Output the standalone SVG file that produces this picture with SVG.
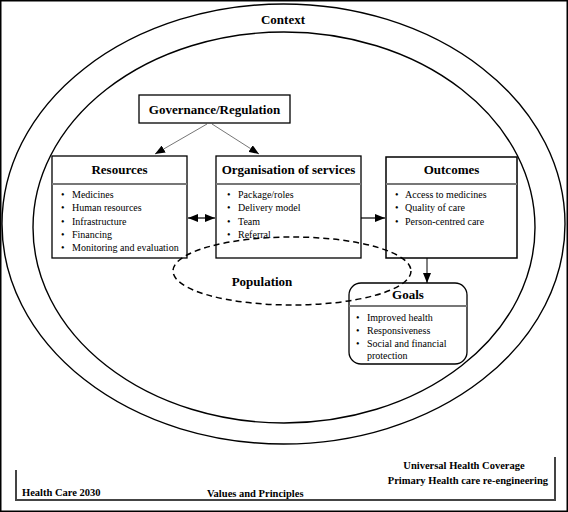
<svg xmlns="http://www.w3.org/2000/svg" width="568" height="512" viewBox="0 0 568 512">
<style>
  .frame{fill:none;stroke:#000;stroke-width:1.5}
  .ring{fill:none;stroke:#000;stroke-width:1.4}
  .box{fill:#fff;stroke:#000;stroke-width:1.3}
  .div{stroke:#777;stroke-width:2}
  .title{font-family:"Liberation Serif","Times New Roman",serif;font-weight:bold;font-size:13px;fill:#000}
  .lbl{font-family:"Liberation Serif","Times New Roman",serif;font-weight:bold;font-size:10.5px;fill:#000}
  .item{font-family:"Liberation Serif","Times New Roman",serif;font-size:10px;fill:#000}
  .thin{stroke:#666;stroke-width:0.9;fill:none}
  .thick{stroke:#666;stroke-width:2;fill:none}
  .blk{stroke:#000;stroke-width:1;fill:none}
  .dash{fill:none;stroke:#000;stroke-width:1.5;stroke-dasharray:6 4}
  .brk{fill:none;stroke:#444;stroke-width:2}
</style>
<defs>
  <marker id="ah" markerUnits="userSpaceOnUse" markerWidth="10" markerHeight="8" refX="10" refY="4" orient="auto-start-reverse">
    <path d="M0,0 L10,4 L0,8 z" fill="#000"/>
  </marker>
</defs>
<rect class="frame" x="0.75" y="0.75" width="566.5" height="510.5" fill="#fff"/>
<g id="context">
  <ellipse class="ring" cx="283.5" cy="224" rx="281.5" ry="220"/>
  <text class="title" x="283" y="24" text-anchor="middle">Context</text>
</g>
<g id="inner-ring">
  <ellipse class="ring" cx="284" cy="227.5" rx="251" ry="195.5"/>
</g>
<g id="connectors">
  <line class="thin" x1="207" y1="124" x2="155" y2="154" marker-end="url(#ah)"/>
  <line class="thin" x1="212" y1="124" x2="259" y2="154" marker-end="url(#ah)"/>
  <line class="thick" x1="188" y1="218" x2="215" y2="218" marker-start="url(#ah)" marker-end="url(#ah)"/>
  <line class="thick" x1="361" y1="218" x2="385" y2="218" marker-end="url(#ah)"/>
  <line class="blk" x1="427" y1="258" x2="427" y2="283" marker-end="url(#ah)"/>
</g>
<g id="governance">
  <rect class="box" x="139" y="95" width="151" height="28"/>
  <text class="title" x="214.5" y="114" text-anchor="middle">Governance/Regulation</text>
</g>
<g id="resources">
  <rect class="box" x="52" y="156" width="135" height="102"/>
  <line class="div" x1="52" y1="184" x2="187" y2="184"/>
  <text class="title" x="119.5" y="174" text-anchor="middle">Resources</text>
  <g class="item">
    <text x="61" y="198">•</text><text x="72" y="198">Medicines</text>
    <text x="61" y="211">•</text><text x="72" y="211">Human resources</text>
    <text x="61" y="225">•</text><text x="72" y="225">Infrastructure</text>
    <text x="61" y="238">•</text><text x="72" y="238">Financing</text>
    <text x="61" y="251">•</text><text x="72" y="251">Monitoring and evaluation</text>
  </g>
</g>
<g id="organisation">
  <rect class="box" x="216" y="156" width="145" height="102"/>
  <line class="div" x1="216" y1="184" x2="361" y2="184"/>
  <text class="title" x="288.5" y="174" text-anchor="middle">Organisation of services</text>
  <g class="item">
    <text x="227" y="198">•</text><text x="238" y="198">Package/roles</text>
    <text x="227" y="211">•</text><text x="238" y="211">Delivery model</text>
    <text x="227" y="225">•</text><text x="238" y="225">Team</text>
    <text x="227" y="238">•</text><text x="238" y="238">Referral</text>
  </g>
</g>
<g id="outcomes">
  <rect class="box" x="386" y="157" width="131" height="101" style="stroke-width:1.5"/>
  <line class="div" x1="386" y1="184" x2="517" y2="184"/>
  <text class="title" x="451.5" y="174" text-anchor="middle">Outcomes</text>
  <g class="item">
    <text x="395" y="198">•</text><text x="405" y="198">Access to medicines</text>
    <text x="395" y="211">•</text><text x="405" y="211">Quality of care</text>
    <text x="395" y="225">•</text><text x="405" y="225">Person-centred care</text>
  </g>
</g>
<g id="goals">
  <rect class="box" x="349" y="283" width="118" height="81" rx="12" ry="12"/>
  <line class="div" x1="349" y1="306" x2="467" y2="306"/>
  <text class="title" x="408" y="299" text-anchor="middle">Goals</text>
  <g class="item">
    <text x="356" y="321">•</text><text x="367" y="321">Improved health</text>
    <text x="356" y="334">•</text><text x="367" y="334">Responsiveness</text>
    <text x="356" y="347">•</text><text x="367" y="347">Social and financial</text>
    <text x="367" y="359">protection</text>
  </g>
</g>
<g id="population">
  <ellipse class="dash" cx="292" cy="271" rx="119" ry="34"/>
  <text class="title" x="262" y="286" text-anchor="middle">Population</text>
</g>
<g id="footer">
  <polyline class="brk" points="16,470 16,500 555,500 555,457"/>
  <text class="lbl" x="22" y="496">Health Care 2030</text>
  <text class="lbl" x="207" y="497">Values and Principles</text>
  <text class="lbl" x="464" y="469" text-anchor="middle">Universal Health Coverage</text>
  <text class="lbl" x="548" y="484" text-anchor="end">Primary Health care re-engineering</text>
</g>
</svg>
